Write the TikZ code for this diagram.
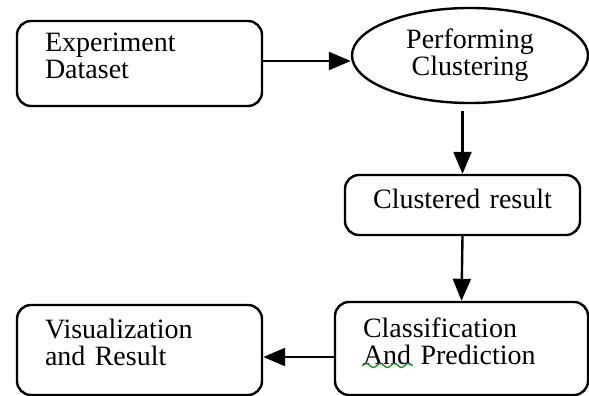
\documentclass[tikz,border=0pt]{standalone}
\usepackage{fontspec}
\setmainfont{Liberation Serif}
\usetikzlibrary{arrows.meta,shapes.geometric,decorations.pathmorphing}
\begin{document}
\begin{tikzpicture}[x=1pt,y=-1pt,line width=2.4pt,
    txt/.style={font=\fontsize{28}{27}\selectfont},
    box/.style={txt,draw,rounded corners=14pt,align=left,inner xsep=27pt,text depth=42pt},
    arr/.style={-{Triangle[length=22pt,width=18pt]}}]
  \useasboundingbox (0,0) rectangle (589,396);
  \node[box,minimum width=245pt,minimum height=85pt,text width=189pt] (data) at (139.5,63.5) {Experiment\\Dataset};
  \node[txt,draw,ellipse,minimum width=236pt,minimum height=95pt,inner sep=0pt,align=center] (clus) at (470,55.5) {Performing\\Clustering};
  \node[box,align=center,minimum width=235pt,minimum height=60pt,text width=179pt,text depth=12pt] (res) at (462.5,205) {Clustered result};
  \node[box,minimum width=253pt,minimum height=93pt,text width=197pt] (pred) at (461.5,348.5) {Classification\\And Prediction};
  \node[box,minimum width=245pt,minimum height=90pt,text width=189pt] (vis) at (139.5,350) {Visualization\\and Result};
  \draw[arr] ([yshift=2.5pt]data.east) -- ([yshift=2.5pt]data.east -| clus.west);
  \draw[arr] ([yshift=-7pt]clus.south -| res.north) -- (res.north);
  \draw[arr] (res.south) -- (pred.north);
  \draw[arr] ([yshift=-8.5pt]pred.west) -- ([yshift=-8.5pt]pred.west -| vis.east);
  % spell-check mark
  \draw[green!60!black,line width=1.3pt,decorate,decoration={snake,amplitude=2pt,segment length=14pt}] (362,365.5) -- (413,365.5);
\end{tikzpicture}
\end{document}
